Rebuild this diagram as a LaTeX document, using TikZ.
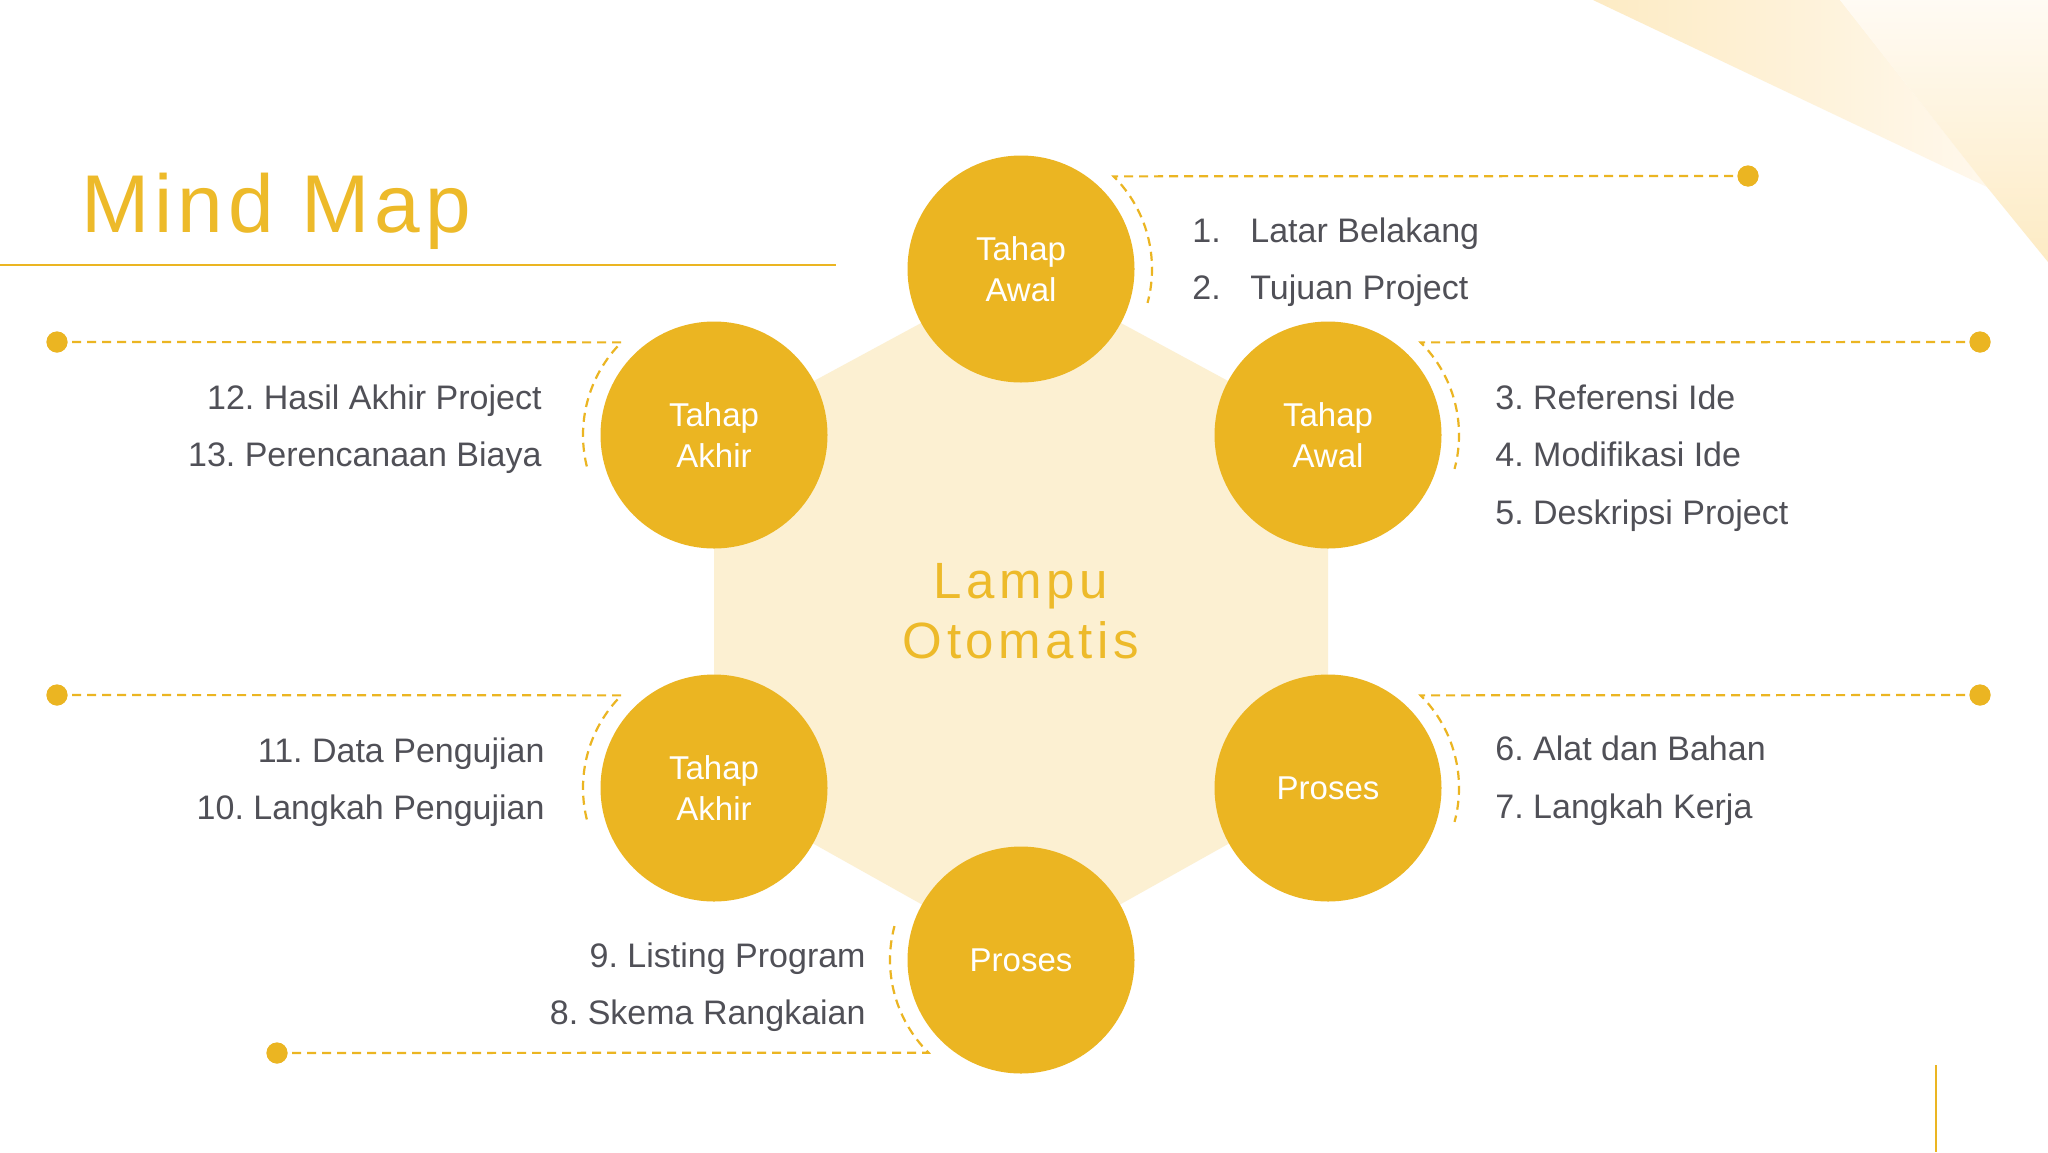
\documentclass[tikz,border=0pt]{standalone}
\usepackage{fontspec}
\setmainfont{Liberation Sans}
\usetikzlibrary{calc}
\frenchspacing
\definecolor{gold}{HTML}{EBB522}
\definecolor{goldtxt}{HTML}{EDBA2A}
\definecolor{hexcol}{HTML}{FCF0D2}
\definecolor{txtgray}{HTML}{505057}
\definecolor{paleA}{HTML}{FDEBC4}
\definecolor{paleB}{HTML}{FFF8EC}
\tikzset{
  bubble/.style={circle, fill=gold, minimum size=113.5pt, inner sep=0pt, text=white, align=center, font=\fontsize{16.5}{20.5}\selectfont},
  dashline/.style={draw=gold, line width=1.1pt, dash pattern=on 4.5pt off 3pt},
  enddot/.style={circle, fill=gold, minimum size=10.5pt, inner sep=0pt},
  itemtxt/.style={text=txtgray, font=\fontsize{17}{20}\selectfont, inner sep=0pt},
}
\begin{document}
\begin{tikzpicture}[x=0.5pt,y=0.5pt]
\useasboundingbox (0,0) rectangle (2048,-1152);
\fill[white] (0,0) rectangle (2048,-1152);
% top-right decoration
\shade[left color=paleA, right color=paleB] (1593,0) -- (1840,0) -- (1987,-187) -- cycle;
\shade[top color=paleB!60!white, bottom color=paleA] (1840,0) -- (2048,0) -- (2048,-262) -- (1987,-187) -- cycle;
% title
\node[anchor=base west, inner sep=0pt, text=goldtxt, font=\fontsize{41}{45}\selectfont\addfontfeatures{LetterSpace=6}] (title) at (81,-232) {Mind Map};
\draw[gold, line width=1.2pt] (0,-265) -- (836,-265);
% bottom-right line
\draw[gold, line width=1.2pt] (1936,-1065) -- (1936,-1152);
% centres
\coordinate (p1) at (1021,-269);
\coordinate (p2) at (1328,-435);
\coordinate (p3) at (1328,-788);
\coordinate (p4) at (1021,-960);
\coordinate (p5) at (714,-788);
\coordinate (p6) at (714,-435);
\fill[hexcol] (p1) -- (p2) -- (p3) -- (p4) -- (p5) -- (p6) -- cycle;
% centre text
\node[anchor=base, inner sep=0pt, text=goldtxt, font=\fontsize{25.5}{30}\selectfont\addfontfeatures{LetterSpace=9}] (lampu) at (1021,-598) {Lampu};
\node[anchor=base, inner sep=0pt, text=goldtxt, font=\fontsize{25.5}{30}\selectfont\addfontfeatures{LetterSpace=9}] (otomatis) at (1021,-658) {Otomatis};
% circles
\node[bubble] (c1) at (p1) {Tahap\\Awal};
\node[bubble] (c2) at (p2) {Tahap\\Awal};
\node[bubble] (c3) at (p3) {Proses};
\node[bubble] (c4) at (p4) {Proses};
\node[bubble] (c5) at (p5) {Tahap\\Akhir};
\node[bubble] (c6) at (p6) {Tahap\\Akhir};
% dots
\node[enddot] (d1) at (1748,-176) {};
\node[enddot] (d2) at (1980,-342) {};
\node[enddot] (d3) at (1980,-695) {};
\node[enddot] (d4) at (277,-1053) {};
\node[enddot] (d5) at (57,-695) {};
\node[enddot] (d6) at (57,-342) {};
% dashed connectors
\draw[dashline] (d1.center) -- ([shift={(45:131)}]c1.center) arc[start angle=45, end angle=-15, radius=131];
\draw[dashline] (d2.center) -- ([shift={(45:131)}]c2.center) arc[start angle=45, end angle=-15, radius=131];
\draw[dashline] (d3.center) -- ([shift={(45:131)}]c3.center) arc[start angle=45, end angle=-15, radius=131];
\draw[dashline] (d4.center) -- ([shift={(225:131)}]c4.center) arc[start angle=225, end angle=165, radius=131];
\draw[dashline] (d5.center) -- ([shift={(135:131)}]c5.center) arc[start angle=135, end angle=195, radius=131];
\draw[dashline] (d6.center) -- ([shift={(135:131)}]c6.center) arc[start angle=135, end angle=195, radius=131];
\node[enddot] at (d1) {};
\node[enddot] at (d2) {};
\node[enddot] at (d3) {};
\node[enddot] at (d4) {};
\node[enddot] at (d5) {};
\node[enddot] at (d6) {};
% lists
\node[itemtxt, anchor=base west] (n1) at (1192,-242) {1.};
\node[itemtxt, anchor=base west] (t1) at (1250,-242) {Latar Belakang};
\node[itemtxt, anchor=base west] (n2) at (1192,-299) {2.};
\node[itemtxt, anchor=base west] (t2) at (1250,-299) {Tujuan Project};
\node[itemtxt, anchor=base west] (t3) at (1495,-409) {3. Referensi Ide};
\node[itemtxt, anchor=base west] (t4) at (1495,-466) {4. Modifikasi Ide};
\node[itemtxt, anchor=base west] (t5) at (1495,-524) {5. Deskripsi Project};
\node[itemtxt, anchor=base west] (t6) at (1495,-760) {6. Alat dan Bahan};
\node[itemtxt, anchor=base west] (t7) at (1495,-818) {7. Langkah Kerja};
\node[itemtxt, anchor=base east] (t9) at (866,-967) {9. Listing Program};
\node[itemtxt, anchor=base east] (t8) at (866,-1024) {8. Skema Rangkaian};
\node[itemtxt, anchor=base east] (t11) at (545,-762) {11. Data Pengujian};
\node[itemtxt, anchor=base east] (t10) at (545,-819) {10. Langkah Pengujian};
\node[itemtxt, anchor=base east] (t12) at (542,-409) {12. Hasil Akhir Project};
\node[itemtxt, anchor=base east] (t13) at (542,-466) {13. Perencanaan Biaya};
\end{tikzpicture}
\end{document}
